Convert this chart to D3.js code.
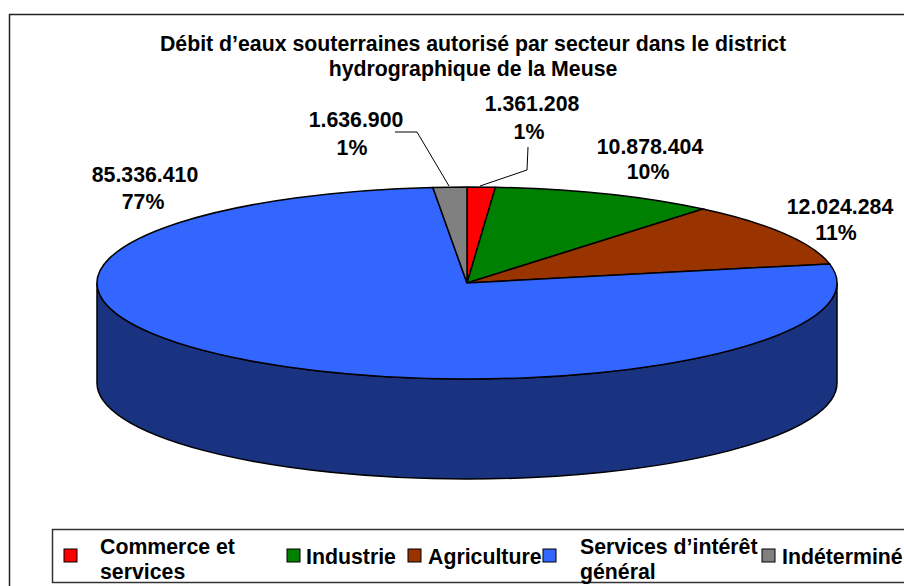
<!DOCTYPE html>
<html>
<head>
<meta charset="utf-8">
<script src="https://cdn.jsdelivr.net/npm/d3@7"></script>
<style>
    html, body { margin: 0; padding: 0; background: #fff; }
    svg { display: block; }
    text { font-family: "Liberation Sans", Arial, sans-serif; font-weight: bold; fill: #000; }
</style>
</head>
<body>
<svg id="chart" width="904" height="586"></svg>
<script>
// chart values
const categories = ['Commerce et services', 'Industrie', 'Agriculture', 'Services d’intérêt général', 'Indéterminé'];
const values = [1361208, 10878404, 12024284, 85336410, 1636900];
const colors = ['#ff0000', '#008000', '#993300', '#3366ff', '#808080'];
const titleLines = ['Débit d’eaux souterraines autorisé par secteur dans le district', 'hydrographique de la Meuse'];
const legendLines = [['Commerce et', 'services'], ['Industrie'], ['Agriculture'], ['Services d’intérêt', 'général'], ['Indéterminé']];

// layout
const cx = 467, cy = 283, rx = 370, ry = 96, depth = 100;
const wallColor = '#1a3380';
const fontSize = '21.3px';
const labelPos = [
    { x1: 532, y1: 111, x2: 529, y2: 139 },
    { x1: 650, y1: 154, x2: 648, y2: 179 },
    { x1: 840, y1: 214, x2: 836, y2: 240 },
    { x1: 145, y1: 182, x2: 143, y2: 209 },
    { x1: 356, y1: 127, x2: 352, y2: 155 }
];
const leaderLines = [
    [[480, 186], [527, 170], [528, 147]],
    [[449, 186], [417, 132], [395, 132]]
];
const legendPos = [
    { sx: 64, tx: 100 },
    { sx: 287, tx: 306 },
    { sx: 408, tx: 428 },
    { sx: 543, tx: 580 },
    { sx: 762, tx: 782 }
];

const svg = d3.select('#chart');

// outer frame + legend box, both run off the right edge
svg.append('rect').attr('x', 9.5).attr('y', 14.5).attr('width', 900).attr('height', 580)
    .attr('fill', '#fff').attr('stroke', '#222').attr('stroke-width', 1.5);
svg.append('rect').attr('x', 52.5).attr('y', 529.5).attr('width', 860).attr('height', 53)
    .attr('fill', '#fff').attr('stroke', '#333').attr('stroke-width', 1.5);

// title
svg.append('g').selectAll('text').data(titleLines).join('text')
    .attr('x', 473)
    .attr('y', (d, i) => 51 + i * 25)
    .attr('text-anchor', 'middle')
    .style('font-size', fontSize)
    .text(d => d);

// pie wall (front half of the ellipse, pushed down)
svg.append('path')
    .attr('d', `M${cx - rx},${cy} A${rx},${ry} 0 0 0 ${cx + rx},${cy} L${cx + rx},${cy + depth} A${rx},${ry} 0 0 1 ${cx - rx},${cy + depth} Z`)
    .attr('fill', wallColor)
    .attr('stroke', '#000')
    .attr('stroke-width', 1.5);

// slices: flat d3 pie squashed into an ellipse
const pie = d3.pie().sort(null)(values);
const arc = d3.arc().innerRadius(0).outerRadius(rx);
svg.append('g')
    .attr('transform', `translate(${cx},${cy}) scale(1,${ry / rx})`)
    .selectAll('path').data(pie).join('path')
    .attr('d', arc)
    .attr('fill', (d, i) => colors[i])
    .attr('stroke', '#000')
    .attr('stroke-width', 1.5)
    .attr('vector-effect', 'non-scaling-stroke');

// leader lines
const line = d3.line();
svg.append('g').selectAll('path').data(leaderLines).join('path')
    .attr('d', line)
    .attr('fill', 'none')
    .attr('stroke', '#000')
    .attr('stroke-width', 1);

// value labels
const fmtNum = d3.formatLocale({ decimal: ',', thousands: '.', grouping: [3], currency: ['', ''] }).format(',d');
const fmtPct = d3.format('.0%');
const total = d3.sum(values);
const labels = svg.append('g').selectAll('g').data(values).join('g');
labels.append('text')
    .attr('x', (d, i) => labelPos[i].x1).attr('y', (d, i) => labelPos[i].y1)
    .attr('text-anchor', 'middle').style('font-size', fontSize)
    .text(d => fmtNum(d));
labels.append('text')
    .attr('x', (d, i) => labelPos[i].x2).attr('y', (d, i) => labelPos[i].y2)
    .attr('text-anchor', 'middle').style('font-size', fontSize)
    .text(d => fmtPct(d / total));

// legend
const legend = svg.append('g').selectAll('g').data(categories).join('g');
legend.append('rect')
    .attr('x', (d, i) => legendPos[i].sx)
    .attr('y', 549)
    .attr('width', 13).attr('height', 13)
    .attr('fill', (d, i) => colors[i])
    .attr('stroke', '#000').attr('stroke-width', 1);
legend.each(function (d, i) {
    const lines = legendLines[i];
    d3.select(this).selectAll('text').data(lines).join('text')
        .attr('x', legendPos[i].tx)
        .attr('y', (l, j) => lines.length > 1 ? 554 + j * 25 : 564)
        .style('font-size', fontSize)
        .text(l => l);
});
</script>
</body>
</html>
